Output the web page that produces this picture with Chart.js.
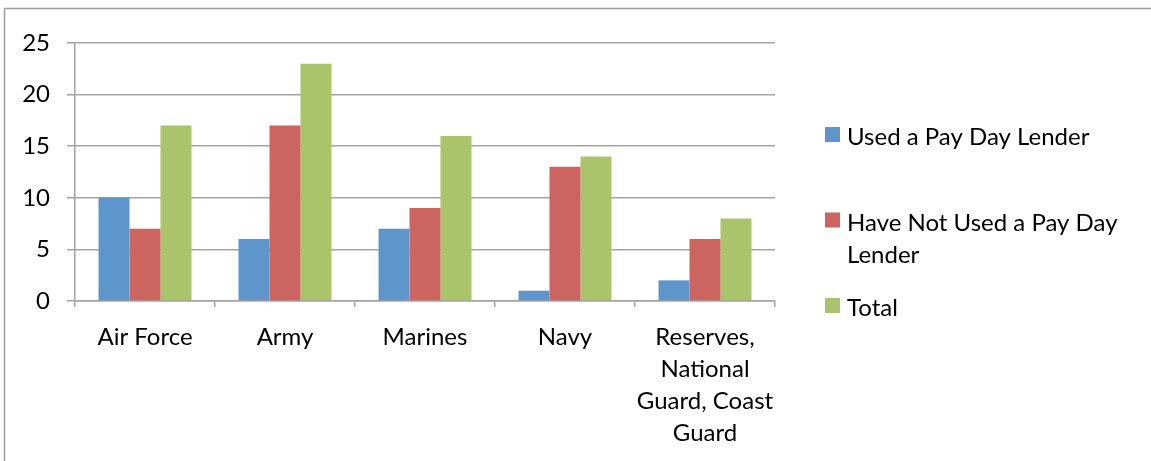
<!DOCTYPE html>
<html>
<head>
<meta charset="utf-8">
<script src="https://cdn.jsdelivr.net/npm/chart.js@4.4.1/dist/chart.umd.min.js"></script>
<style>
  html, body { margin: 0; padding: 0; background: #ffffff; }
  #wrap { width: 1151px; height: 461px; position: relative; }
</style>
</head>
<body>
<div id="wrap"><canvas id="c" width="1151" height="461"></canvas></div>
<script>
// Survey counts by service branch
const categories = [
  'Air Force',
  'Army',
  'Marines',
  'Navy',
  ['Reserves,', 'National', 'Guard, Coast', 'Guard']
];
const usedLender    = [10, 6, 7, 1, 2];
const notUsedLender = [7, 17, 9, 13, 6];
const totals        = [17, 23, 16, 14, 8];
const seriesNames   = ['Used a Pay Day Lender', 'Have Not Used a Pay Day Lender', 'Total'];
const seriesColors  = ['#5e95cb', '#cc645f', '#a9c46a'];
const yTicks        = [0, 5, 10, 15, 20, 25];

const FONT = 'Lato, "Open Sans", sans-serif';
const FONT_SIZE = 24;
const GRID = '#a3a3a3';

// Frame lines (top and left edge of the chart box)
const framePlugin = {
  id: 'frame',
  beforeDraw(chart) {
    const ctx = chart.ctx;
    ctx.save();
    ctx.strokeStyle = '#9c9c9c';
    ctx.lineWidth = 1.5;
    ctx.beginPath();
    ctx.moveTo(4.5, chart.height);
    ctx.lineTo(4.5, 8.5);
    ctx.lineTo(chart.width, 8.5);
    ctx.stroke();
    ctx.restore();
  }
};

// Right-hand legend with wrapped labels
const sideLegend = {
  id: 'sideLegend',
  afterDraw(chart) {
    const ctx = chart.ctx;
    const boxX = 825, boxSize = 15, textX = 847, maxW = 285;
    const firstBaseline = 145, itemGap = 85.5, lineGap = 32;
    ctx.save();
    ctx.font = FONT_SIZE + 'px ' + FONT;
    ctx.textBaseline = 'alphabetic';
    ctx.textAlign = 'left';
    chart.data.datasets.forEach((ds, i) => {
      const base = firstBaseline + i * itemGap;
      ctx.fillStyle = ds.backgroundColor;
      ctx.fillRect(boxX, base - 18, boxSize, boxSize);
      // wrap words to the legend width
      const words = ds.label.split(' ');
      const lines = [];
      let cur = '';
      words.forEach(w => {
        const trial = cur ? cur + ' ' + w : w;
        if (ctx.measureText(trial).width > maxW && cur) { lines.push(cur); cur = w; }
        else cur = trial;
      });
      if (cur) lines.push(cur);
      ctx.fillStyle = '#000000';
      lines.forEach((ln, k) => ctx.fillText(ln, textX, base + k * lineGap));
    });
    ctx.restore();
  }
};

new Chart(document.getElementById('c'), {
  type: 'bar',
  data: {
    labels: categories,
    datasets: seriesNames.map((name, i) => ({
      label: name,
      data: [usedLender, notUsedLender, totals][i],
      backgroundColor: seriesColors[i],
      borderWidth: 0,
      categoryPercentage: 0.664,
      barPercentage: 1.0
    }))
  },
  options: {
    responsive: false,
    animation: false,
    devicePixelRatio: 1,
    layout: { padding: { top: 43, right: 376, bottom: 0, left: 0 } },
    plugins: {
      legend: { display: false },
      tooltip: { enabled: false },
      title: { display: false }
    },
    scales: {
      x: {
        afterFit(scale) { scale.height = 160; },
        grid: {
          drawOnChartArea: false,
          drawTicks: true,
          tickLength: 6,
          color: GRID,
          lineWidth: 1.5
        },
        border: { display: true, color: GRID, width: 1.5 },
        ticks: {
          color: '#000000',
          padding: 14,
          maxRotation: 0,
          autoSkip: false,
          font: { family: FONT, size: FONT_SIZE, lineHeight: '32px' }
        }
      },
      y: {
        min: 0,
        max: 25,
        afterFit(scale) { scale.width = 75; },
        afterBuildTicks(scale) { scale.ticks = yTicks.map(v => ({ value: v })); },
        grid: {
          drawTicks: true,
          tickLength: 8,
          color: GRID,
          lineWidth: 1.5
        },
        border: { display: true, color: GRID, width: 1.5 },
        ticks: {
          color: '#000000',
          padding: 17,
          font: { family: FONT, size: FONT_SIZE }
        }
      }
    }
  },
  plugins: [framePlugin, sideLegend]
});
</script>
</body>
</html>
